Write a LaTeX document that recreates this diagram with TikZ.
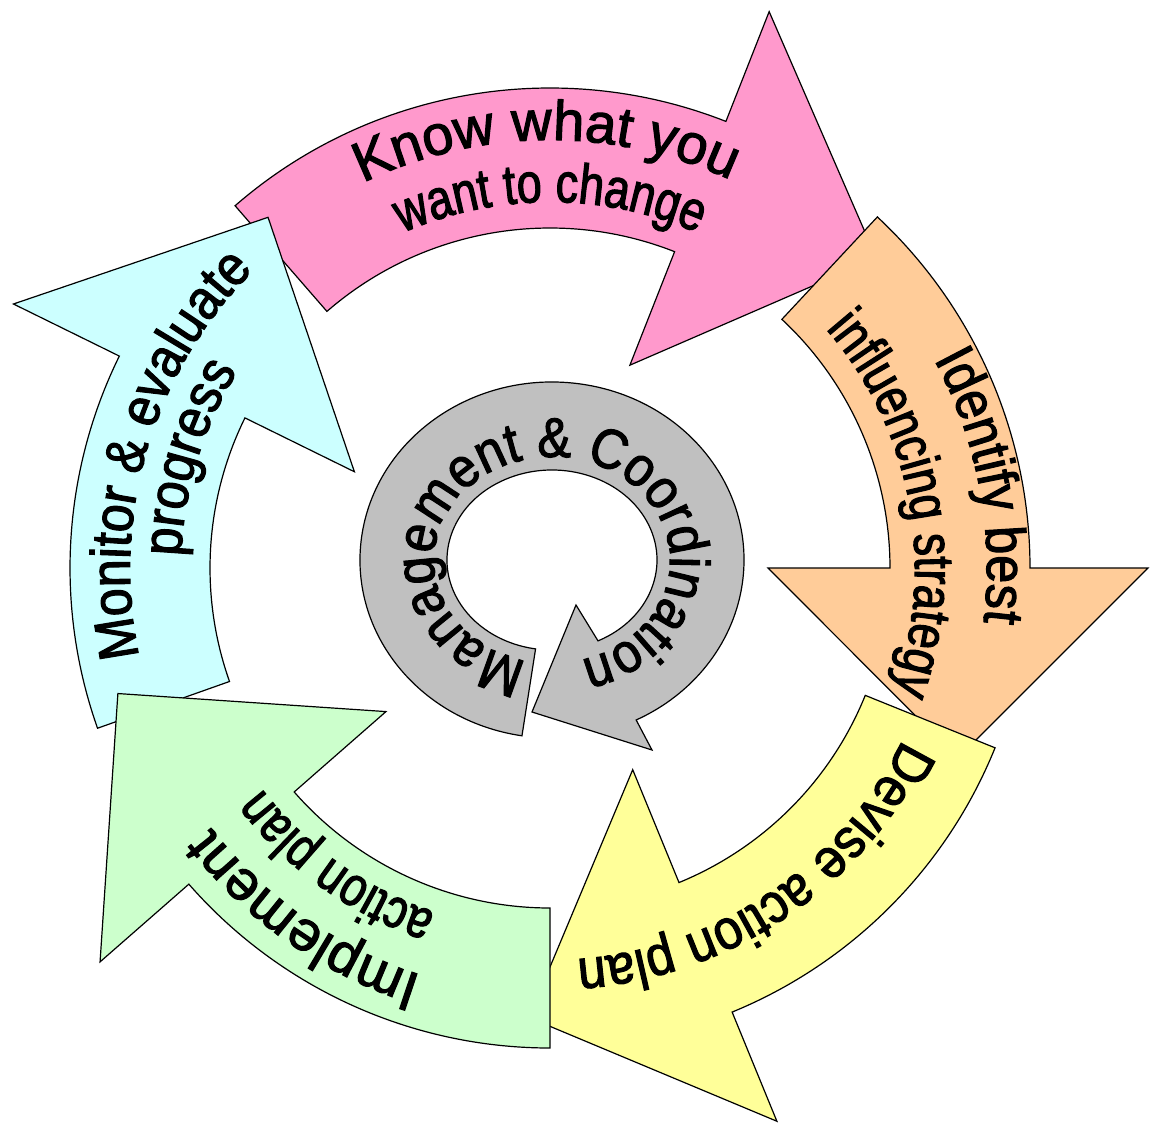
\documentclass[tikz,border=0pt]{standalone}
\usepackage{fontspec}
\setmainfont{Liberation Sans}
\newfontfamily\fullFont[FakeBold=2]{Liberation Sans}
\newfontfamily\midFont[FakeStretch=0.9, FakeBold=2]{Liberation Sans}
\newfontfamily\slimFont[FakeStretch=0.8, FakeBold=2]{Liberation Sans}
\usetikzlibrary{calc, decorations.text}

\definecolor{pinkFill}{HTML}{FF99CC}
\definecolor{orangeFill}{HTML}{FFCC99}
\definecolor{yellowFill}{HTML}{FFFF99}
\definecolor{greenFill}{HTML}{CCFFCC}
\definecolor{cyanFill}{HTML}{CCFFFF}
\definecolor{grayFill}{HTML}{C0C0C0}

\tikzset{
	cycleArrow/.style = {draw = black, line width = 1.2pt, line join = miter},
}

\begin{document}
\begin{tikzpicture}[x = 1pt, y = 1pt]

		% constant definitions
		\def\innerRad{340}
		\def\outerRad{480}
		\def\barbIn{218}
		\def\barbOut{598}
		\def\tipRad{450}
		\def\tipShift{25}

		% curved labels: radius, middle angle, half span, font, text
		\def\arcLabel#1#2#3#4#5{
			\path[decorate, decoration = {text along path, text = {|#4\fontsize{56}{60}\selectfont|#5}, text align = center}] (#2 + #3:#1) arc[start angle = #2 + #3, end angle = #2 - #3, radius = #1];
		}

		% picture frame
		\useasboundingbox (-550, -554) rectangle (600, 568);

		% cycle arrows
		\foreach \tail/\base/\arrowColor in {131/68.5/pinkFill, 47/0/orangeFill, -22/-67.7/yellowFill, 199.5/153.8/cyanFill, -90/-138.8/greenFill} {
			\draw[cycleArrow, fill = \arrowColor] (\tail:\outerRad) arc[start angle = \tail, end angle = \base, radius = \outerRad] -- (\base:\barbOut) -- (\base - \tipShift:\tipRad) -- (\base:\barbIn) -- (\base:\innerRad) arc[start angle = \base, end angle = \tail, radius = \innerRad] -- cycle;
		}

		% cycle labels
		\arcLabel{428}{90.5}{40}{\fullFont}{Know what you}
		\arcLabel{366}{90}{40}{\slimFont}{want to change}
		\arcLabel{437}{10.7}{40}{\midFont}{Identify best}
		\arcLabel{365}{10.6}{45}{\slimFont}{influencing strategy}
		\arcLabel{392}{-56}{45}{\midFont}{Devise action plan}
		\arcLabel{427}{-125}{40}{\fullFont}{Implement}
		\arcLabel{363}{-125.5}{40}{\slimFont}{action plan}
		\arcLabel{420}{163.5}{45}{\midFont}{Monitor {\&} evaluate}
		\arcLabel{369}{163}{40}{\midFont}{progress}

		% management ring
		\coordinate (GC) at (2, 8);
		\coordinate (GL) at (102, -182);
		\coordinate (GT) at (-18, -144);
		\coordinate (GU) at (26, -37);
		\draw[cycleArrow, fill = grayFill] ($(GC) + (261:192 and 178)$) arc[start angle = 261, end angle = -64, x radius = 192, y radius = 178] -- (GL) -- (GT) -- (GU) -- ($(GC) + (-64:105 and 90)$) arc[start angle = -64, end angle = 261, x radius = 105, y radius = 90] -- cycle;
		\path[decorate, decoration = {text along path, text = {|\midFont\fontsize{56}{60}\selectfont|Management {\&} Coordination}, text align = center}] ($(GC) + (270:118 and 103)$) arc[start angle = 270, end angle = -88, x radius = 118, y radius = 103];

\end{tikzpicture}
\end{document}
